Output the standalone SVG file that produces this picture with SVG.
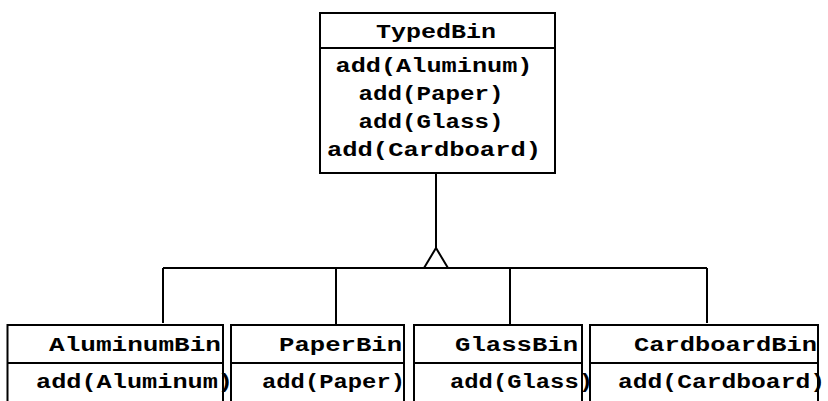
<svg xmlns="http://www.w3.org/2000/svg" width="828" height="401" viewBox="0 0 828 401">
<style>
.box{fill:#fff;stroke:#000;stroke-width:2}
.ln{fill:none;stroke:#000;stroke-width:2}
text{font-family:"Liberation Mono","DejaVu Sans Mono",monospace;font-weight:bold;font-size:20px;fill:#000}
.c{text-anchor:middle}
</style>
<rect width="828" height="401" fill="#fff"/>
<g id="connectors">
<line class="ln" x1="436" y1="173" x2="436" y2="248"/>
<polyline class="ln" points="424,268 436,248 448,268"/>
<line class="ln" x1="163" y1="268" x2="707" y2="268"/>
<line class="ln" x1="163" y1="268" x2="163" y2="323"/>
<line class="ln" x1="336" y1="268" x2="336" y2="325"/>
<line class="ln" x1="510" y1="268" x2="510" y2="324"/>
<line class="ln" x1="707" y1="268" x2="707" y2="323"/>
</g>
<g id="TypedBin">
<rect class="box" x="320" y="13" width="235" height="160"/>
<line class="ln" x1="320" y1="48" x2="555" y2="48"/>
<text class="c" x="436" y="38" textLength="120" lengthAdjust="spacingAndGlyphs">TypedBin</text>
<text class="c" x="434" y="72" textLength="197" lengthAdjust="spacingAndGlyphs">add(Aluminum)</text>
<text class="c" x="431" y="100" textLength="145" lengthAdjust="spacingAndGlyphs">add(Paper)</text>
<text class="c" x="431" y="128" textLength="145" lengthAdjust="spacingAndGlyphs">add(Glass)</text>
<text class="c" x="434" y="156" textLength="214" lengthAdjust="spacingAndGlyphs">add(Cardboard)</text>
</g>
<g id="AluminumBin">
<rect class="box" x="7.5" y="325" width="215.5" height="100"/>
<line class="ln" x1="7.5" y1="363" x2="223" y2="363"/>
<text x="49" y="351" textLength="172" lengthAdjust="spacingAndGlyphs">AluminumBin</text>
<text x="36" y="388" textLength="197" lengthAdjust="spacingAndGlyphs">add(Aluminum)</text>
</g>
<g id="PaperBin">
<rect class="box" x="231" y="325" width="173" height="100"/>
<line class="ln" x1="231" y1="363" x2="404" y2="363"/>
<text x="279" y="351" textLength="123" lengthAdjust="spacingAndGlyphs">PaperBin</text>
<text x="262" y="388" textLength="143" lengthAdjust="spacingAndGlyphs">add(Paper)</text>
</g>
<g id="GlassBin">
<rect class="box" x="414" y="325" width="168" height="100"/>
<line class="ln" x1="414" y1="363" x2="582" y2="363"/>
<text x="455" y="351" textLength="123" lengthAdjust="spacingAndGlyphs">GlassBin</text>
<text x="450" y="388" textLength="143" lengthAdjust="spacingAndGlyphs">add(Glass)</text>
</g>
<g id="CardboardBin">
<rect class="box" x="590" y="325" width="228" height="100"/>
<line class="ln" x1="590" y1="363" x2="818" y2="363"/>
<text x="634" y="351" textLength="183" lengthAdjust="spacingAndGlyphs">CardboardBin</text>
<text x="618" y="388" textLength="207" lengthAdjust="spacingAndGlyphs">add(Cardboard)</text>
</g>
</svg>
